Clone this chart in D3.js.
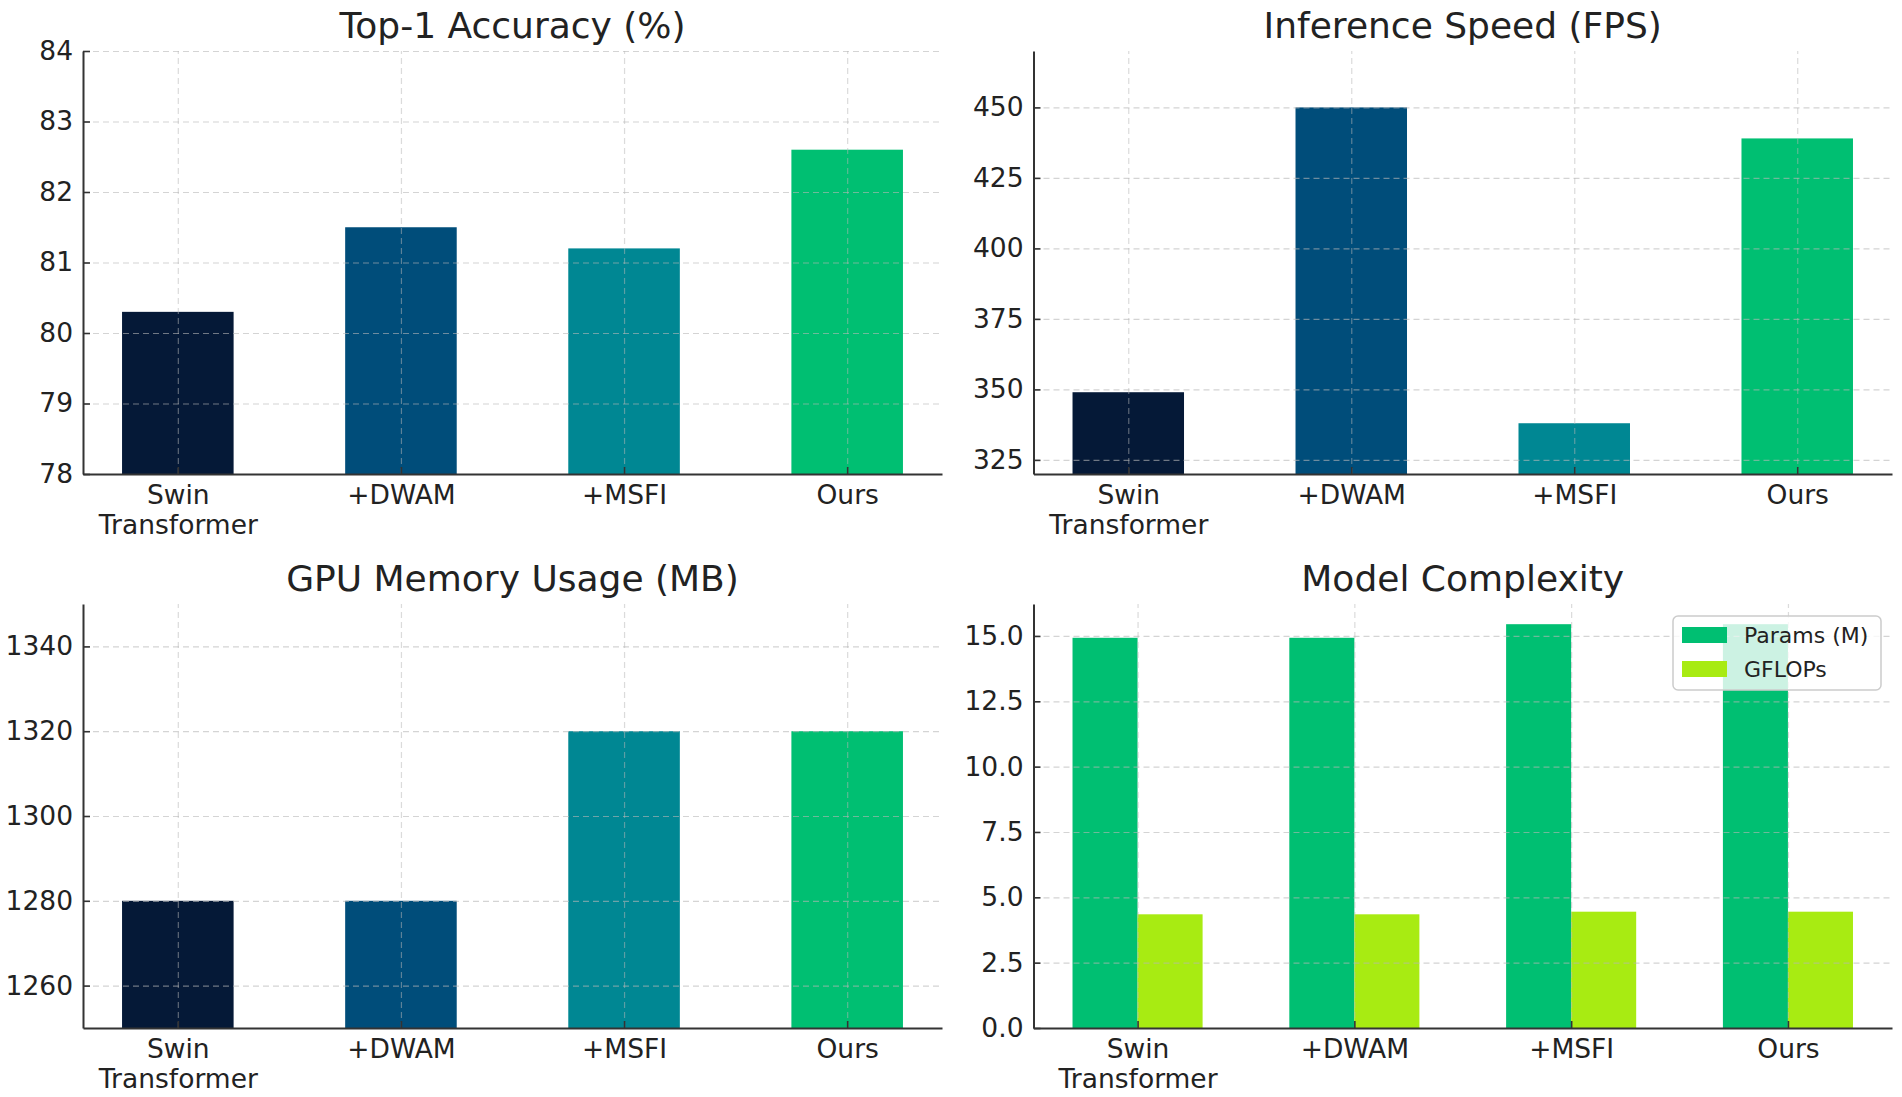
<!DOCTYPE html>
<html>
<head>
<meta charset="utf-8">
<script src="https://cdn.jsdelivr.net/npm/d3@7"></script>
<style>
  html, body { margin: 0; padding: 0; background: #fff; }
  svg { display: block; font-family: "DejaVu Sans", sans-serif; }
</style>
</head>
<body>
<svg id="chart" width="1902" height="1097"></svg>
<script>
// ---------- data ----------
const categories = ["Swin\nTransformer", "+DWAM", "+MSFI", "Ours"];
const accuracy   = [80.3, 81.5, 81.2, 82.6];
const fps        = [349, 450, 338, 439];
const gpuMemory  = [1280, 1280, 1320, 1320];
const paramsM    = [14.93, 14.93, 15.45, 15.45];
const gflops     = [4.35, 4.35, 4.45, 4.45];

const accTicks = [78, 79, 80, 81, 82, 83, 84];
const fpsTicks = [325, 350, 375, 400, 425, 450];
const gpuTicks = [1260, 1280, 1300, 1320, 1340];
const cxTicks  = [0, 2.5, 5, 7.5, 10, 12.5, 15];

const barColors = ["#051937", "#004d7a", "#008793", "#00bf72"];
const seriesNames  = ["Params (M)", "GFLOPs"];
const seriesColors = ["#00bf72", "#a8eb12"];

// ---------- layout ----------
const svg = d3.select("#chart");
const cols = [[83, 942], [1033.5, 1892]];
const rows = [[51, 474], [604, 1028]];
const textColor = "#222";
const tickFont = 26.5, titleFont = 36, legendFont = 22;

function panel(col, row, title, yDomain, yTicks, yFmt, xDomain) {
  const [x0, x1] = cols[col], [y0, y1] = rows[row];
  const g = svg.append("g");
  const x = d3.scaleLinear().domain(xDomain).range([x0, x1]);
  const y = d3.scaleLinear().domain(yDomain).range([y1, y0]);
  const layers = {
    bars: g.append("g"),
    grid: g.append("g"),
    axes: g.append("g"),
    top: g.append("g")
  };
  // title
  g.append("text")
    .attr("x", (x0 + x1) / 2).attr("y", y0 - 13)
    .attr("text-anchor", "middle")
    .attr("font-size", titleFont).attr("fill", textColor)
    .text(title);
  // grid
  layers.grid.append("g")
    .attr("transform", `translate(${x0},0)`)
    .call(d3.axisLeft(y).tickValues(yTicks).tickSize(-(x1 - x0)).tickFormat(""))
    .call(s => s.select(".domain").remove())
    .call(s => s.selectAll("line").attr("stroke", "#b8b8b8").attr("stroke-opacity", 0.6)
      .attr("stroke-width", 1.2).attr("stroke-dasharray", "6,4"));
  layers.grid.append("g")
    .attr("transform", `translate(0,${y1})`)
    .call(d3.axisBottom(x).tickValues(d3.range(categories.length)).tickSize(-(y1 - y0)).tickFormat(""))
    .call(s => s.select(".domain").remove())
    .call(s => s.selectAll("line").attr("stroke", "#b8b8b8").attr("stroke-opacity", 0.5)
      .attr("stroke-width", 1.2).attr("stroke-dasharray", "6,4"));
  // y axis
  const ya = layers.axes.append("g")
    .attr("transform", `translate(${x0},0)`)
    .call(d3.axisLeft(y).tickValues(yTicks).tickFormat(yFmt)
      .tickSizeInner(-7).tickSizeOuter(0).tickPadding(10));
  ya.select(".domain").attr("stroke", "#333").attr("stroke-width", 2);
  ya.selectAll(".tick line").attr("stroke", "#333").attr("stroke-width", 1.6);
  ya.selectAll(".tick text").attr("font-size", tickFont).attr("fill", textColor)
    .attr("font-family", "DejaVu Sans");
  // x axis
  const xa = layers.axes.append("g")
    .attr("transform", `translate(0,${y1})`)
    .call(d3.axisBottom(x).tickValues(d3.range(categories.length)).tickFormat("")
      .tickSizeInner(-7).tickSizeOuter(0));
  xa.select(".domain").attr("stroke", "#333").attr("stroke-width", 2);
  xa.selectAll(".tick line").attr("stroke", "#333").attr("stroke-width", 1.6);
  xa.selectAll(".tick").each(function(d) {
    const t = d3.select(this).append("text")
      .attr("text-anchor", "middle").attr("font-size", tickFont)
      .attr("fill", textColor).attr("font-family", "DejaVu Sans");
    categories[d].split("\n").forEach((line, k) => {
      t.append("tspan").attr("x", 0).attr("y", 30 + k * 30).text(line);
    });
  });
  return { x, y, layers, x0, x1, y0, y1 };
}

function simpleBars(p, values) {
  p.layers.bars.selectAll("rect").data(values).join("rect")
    .attr("x", (d, i) => p.x(i - 0.25))
    .attr("width", (d, i) => p.x(i + 0.25) - p.x(i - 0.25))
    .attr("y", d => p.y(d))
    .attr("height", d => p.y(p.y.domain()[0]) - p.y(d))
    .attr("fill", (d, i) => barColors[i]);
}

// Panel 1: accuracy
const p1 = panel(0, 0, "Top-1 Accuracy (%)", [78, 84], accTicks, d3.format("d"), [-0.425, 3.425]);
simpleBars(p1, accuracy);

// Panel 2: FPS
const p2 = panel(1, 0, "Inference Speed (FPS)", [320, 470], fpsTicks, d3.format("d"), [-0.425, 3.425]);
simpleBars(p2, fps);

// Panel 3: GPU memory
const p3 = panel(0, 1, "GPU Memory Usage (MB)", [1250, 1350], gpuTicks, d3.format("d"), [-0.425, 3.425]);
simpleBars(p3, gpuMemory);

// Panel 4: complexity (grouped)
const cxMax = d3.max(paramsM.concat(gflops)) * 1.05;
const p4 = panel(1, 1, "Model Complexity", [0, cxMax], cxTicks, d3.format(".1f"), [-0.48, 3.48]);
const series = [paramsM, gflops];
const bw = 0.3;
series.forEach((vals, s) => {
  p4.layers.bars.append("g").selectAll("rect").data(vals).join("rect")
    .attr("x", (d, i) => p4.x(i - bw + s * bw))
    .attr("width", (d, i) => p4.x(i + s * bw) - p4.x(i - bw + s * bw))
    .attr("y", d => p4.y(d))
    .attr("height", d => p4.y(0) - p4.y(d))
    .attr("fill", seriesColors[s]);
});

// legend
const lg = p4.layers.top.append("g").attr("transform", `translate(${p4.x1 - 219},${p4.y0 + 12})`);
lg.append("rect").attr("x", 0).attr("y", 0).attr("width", 208).attr("height", 74)
  .attr("rx", 5).attr("ry", 5)
  .attr("fill", "#fff").attr("fill-opacity", 0.8)
  .attr("stroke", "#cccccc").attr("stroke-width", 1.5);
seriesNames.forEach((name, s) => {
  const row = lg.append("g").attr("transform", `translate(0,${11 + s * 34})`);
  row.append("rect").attr("x", 9).attr("y", 0).attr("width", 45).attr("height", 16)
    .attr("fill", seriesColors[s]);
  row.append("text").attr("x", 71).attr("y", 8).attr("dy", "0.36em")
    .attr("font-size", legendFont).attr("fill", textColor).text(name);
});
</script>
</body>
</html>
